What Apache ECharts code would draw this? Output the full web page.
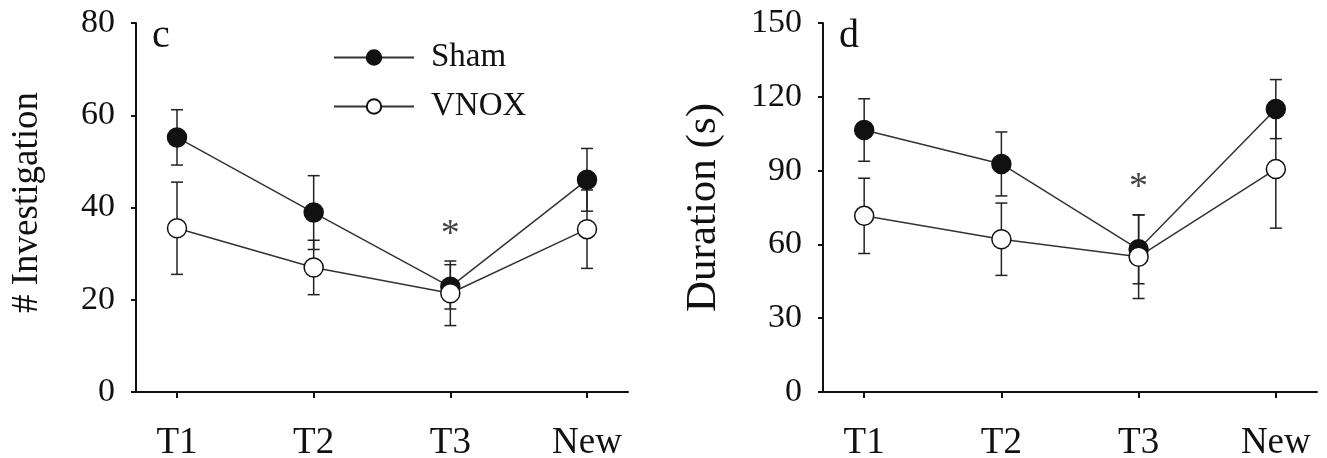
<!DOCTYPE html>
<html>
<head>
<meta charset="utf-8">
<script src="https://cdn.jsdelivr.net/npm/echarts@6/dist/echarts.min.js"></script>
<style>
  html, body { margin: 0; padding: 0; background: #fff; }
  #chart { width: 1327px; height: 458px; }
</style>
</head>
<body>
<div id="chart"></div>
<script>
// categories on the x axis (positions 1..4)
const categories = ['T1', 'T2', 'T3', 'New'];

// panel c: number of investigations (mean, error)
const countSham = [55.2, 38.9, 22.8, 46.0];
const countShamErr = [6.0, 8.0, 4.8, 6.8];
const countVnox = [35.5, 27.0, 21.4, 35.3];
const countVnoxErr = [10.0, 5.9, 7.0, 8.5];
const countStar = [[3, 34.0]];

// panel d: duration in seconds (mean, error)
const durSham = [106.5, 92.7, 58.0, 115.0];
const durShamErr = [12.7, 13.0, 14.0, 12.0];
const durVnox = [71.6, 62.1, 55.0, 90.6];
const durVnoxErr = [15.3, 14.7, 17.0, 24.0];
const durStar = [[3, 83.0]];

const FONT = '"Liberation Serif", "DejaVu Serif", serif';
const INK = '#111';

const toPoints = (vals) => vals.map((v, i) => [i + 1, v]);

const errorSeries = (axis, vals, errs) => ({
  type: 'custom',
  xAxisIndex: axis,
  yAxisIndex: axis,
  z: 1,
  silent: true,
  encode: { x: 0, y: [1, 2] },
  data: vals.map((v, i) => [i + 1, v - errs[i], v + errs[i]]),
  renderItem: (params, api) => {
    const lo = api.coord([api.value(0), api.value(1)]);
    const hi = api.coord([api.value(0), api.value(2)]);
    const w = 6;
    const style = { stroke: '#222', lineWidth: 1.5, fill: null };
    return {
      type: 'group',
      children: [
        { type: 'line', shape: { x1: lo[0], y1: lo[1], x2: hi[0], y2: hi[1] }, style },
        { type: 'line', shape: { x1: lo[0] - w, y1: lo[1], x2: lo[0] + w, y2: lo[1] }, style },
        { type: 'line', shape: { x1: hi[0] - w, y1: hi[1], x2: hi[0] + w, y2: hi[1] }, style },
      ],
    };
  },
});

const lineSeries = (axis, name, vals, fill) => ({
  type: 'line',
  name,
  xAxisIndex: axis,
  yAxisIndex: axis,
  z: 3,
  data: toPoints(vals),
  symbol: 'circle',
  symbolSize: 19,
  lineStyle: { color: '#333', width: 1.5 },
  itemStyle: { color: fill, borderColor: INK, borderWidth: 1.5 },
  emphasis: { disabled: true },
});

const starSeries = (axis, data) => ({
  type: 'scatter',
  xAxisIndex: axis,
  yAxisIndex: axis,
  silent: true,
  symbolSize: 0,
  data,
  label: {
    show: true,
    position: 'inside',
    formatter: '*',
    fontFamily: FONT,
    fontSize: 38,
    color: INK,
  },
});

const xAxis = (grid) => ({
  type: 'value',
  gridIndex: grid,
  min: 0.7,
  max: 4.3,
  splitLine: { show: false },
  axisLine: { lineStyle: { color: INK, width: 2 } },
  axisTick: { customValues: [1, 2, 3, 4], length: 6, lineStyle: { color: INK, width: 2 } },
  axisLabel: {
    customValues: [1, 2, 3, 4],
    formatter: (v) => categories[Math.round(v) - 1],
    fontFamily: FONT,
    fontSize: 37,
    color: INK,
    margin: 33,
  },
});

const yAxis = (grid, max, interval, name, nameSize, nameGap, namePad) => ({
  type: 'value',
  gridIndex: grid,
  min: 0,
  max,
  interval,
  name,
  nameLocation: 'middle',
  nameGap,
  nameTextStyle: { fontFamily: FONT, fontSize: nameSize, color: INK, padding: namePad },
  splitLine: { show: false },
  axisLine: { show: true, lineStyle: { color: INK, width: 2 } },
  axisTick: { show: true, length: 5, lineStyle: { color: INK, width: 2 } },
  axisLabel: { fontFamily: FONT, fontSize: 34, color: INK, margin: 21 },
});

const chart = echarts.init(document.getElementById('chart'));
chart.setOption({
  animation: false,
  backgroundColor: '#fff',
  title: [
    { text: 'c', left: 152, top: 16, padding: 0, textStyle: { fontFamily: FONT, fontSize: 40, fontWeight: 'normal', color: INK } },
    { text: 'd', left: 839, top: 16, padding: 0, textStyle: { fontFamily: FONT, fontSize: 40, fontWeight: 'normal', color: INK } },
  ],
  legend: {
    data: ['Sham', 'VNOX'],
    orient: 'vertical',
    left: 333,
    top: 41,
    padding: 0,
    itemWidth: 80,
    itemHeight: 18,
    itemGap: 16,
    selectedMode: false,
    textStyle: { fontFamily: FONT, fontSize: 33, color: INK, padding: [0, 0, 0, 12] },
  },
  grid: [
    { left: 136, top: 23, width: 492, height: 369, outerBoundsMode: 'none' },
    { left: 823, top: 23, width: 494, height: 369, outerBoundsMode: 'none' },
  ],
  xAxis: [xAxis(0), xAxis(1)],
  yAxis: [
    yAxis(0, 80, 20, '# Investigation', 37, 90, [0, 0, 0, 10]),
    yAxis(1, 150, 30, 'Duration (s)', 43, 98, [0, 0, 0, 0]),
  ],
  series: [
    errorSeries(0, countSham, countShamErr),
    errorSeries(0, countVnox, countVnoxErr),
    lineSeries(0, 'Sham', countSham, INK),
    lineSeries(0, 'VNOX', countVnox, '#fff'),
    starSeries(0, countStar),
    errorSeries(1, durSham, durShamErr),
    errorSeries(1, durVnox, durVnoxErr),
    lineSeries(1, 'Sham', durSham, INK),
    lineSeries(1, 'VNOX', durVnox, '#fff'),
    starSeries(1, durStar),
  ],
});
</script>
</body>
</html>
